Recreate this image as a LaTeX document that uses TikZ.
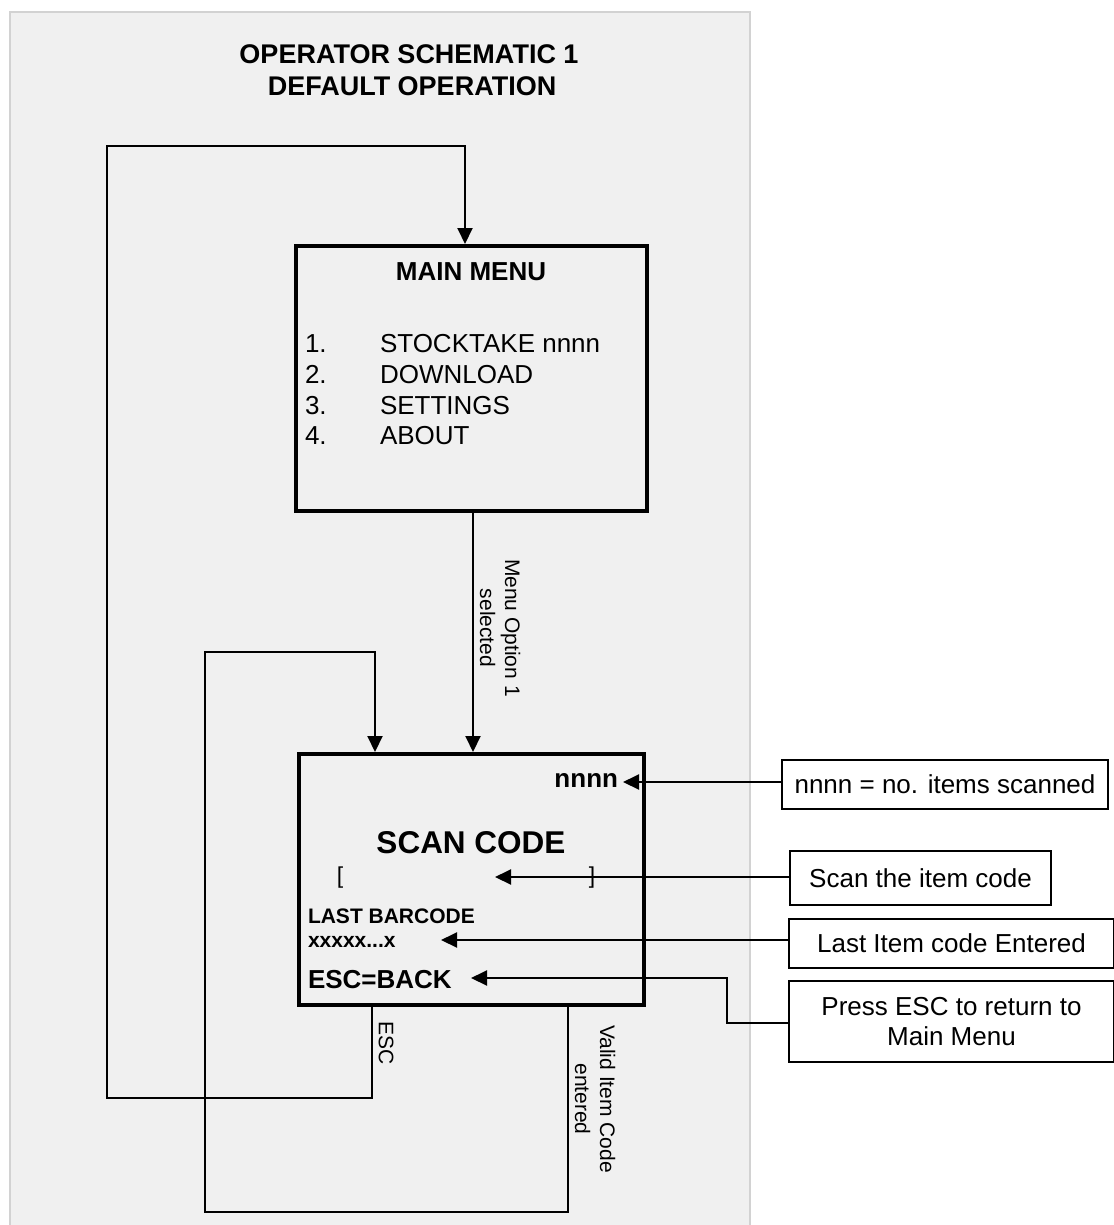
\documentclass[tikz,border=0pt]{standalone}
\usepackage{fontspec}
\setmainfont{Liberation Sans}
\usetikzlibrary{arrows.meta}
\definecolor{panelfill}{HTML}{F0F0F0}
\definecolor{panelline}{HTML}{D2D2D2}
\begin{document}
\begin{tikzpicture}[x=1pt,y=-1pt,
  txt/.style={inner sep=0pt,outer sep=0pt},
  bfA/.style={txt,font=\fontsize{26}{30}\selectfont\bfseries},
  bfT/.style={txt,font=\fontsize{27}{31}\selectfont\bfseries},
  rgA/.style={txt,font=\fontsize{26}{30}\selectfont},
  bfB/.style={txt,font=\fontsize{21}{24}\selectfont\bfseries},
  arr/.style={line width=2pt,-{Triangle[length=16pt,width=15pt]}},
  screen/.style={draw,line width=4pt,inner sep=0pt},
  note/.style={draw,line width=2.5pt,inner sep=0pt,align=center,font=\fontsize{26}{30}\selectfont},
  lbl/.style={inner sep=0pt,font=\fontsize{21}{25}\selectfont,align=center,rotate=-90},
]
\useasboundingbox (0,0) rectangle (1113,1225);
\fill[white] (0,0) rectangle (1113,1225);
\draw[fill=panelfill,draw=panelline,line width=2pt] (10,12) rectangle (750,1240);

% title
\node[bfT,anchor=base] (t1) at (409,64) {OPERATOR SCHEMATIC 1};
\node[bfT,anchor=base] (t2) at (412,96) {DEFAULT OPERATION};

% main menu screen
\node[screen,minimum width=351pt,minimum height=265pt] (main) at (471.5,378.5) {};
\node[bfA,anchor=base] (mmt) at (471,280) {MAIN MENU};
\node[rgA,anchor=base west] (n1) at (305,352) {1.};
\node[rgA,anchor=base west] (i1) at (380,352) {STOCKTAKE nnnn};
\node[rgA,anchor=base west] (n2) at (305,383) {2.};
\node[rgA,anchor=base west] (i2) at (380,383) {DOWNLOAD};
\node[rgA,anchor=base west] (n3) at (305,414) {3.};
\node[rgA,anchor=base west] (i3) at (380,414) {SETTINGS};
\node[rgA,anchor=base west] (n4) at (305,444) {4.};
\node[rgA,anchor=base west] (i4) at (380,444) {ABOUT};

% scan code screen
\node[screen,minimum width=345pt,minimum height=251pt] (scan) at (471.5,879.5) {};
\node[bfA,anchor=base east] (cnt) at (618,787) {nnnn};
\node[txt,font=\fontsize{31.5}{36}\selectfont\bfseries,anchor=base] (sct) at (471,853) {SCAN CODE};
\node[txt,font=\fontsize{23}{26}\selectfont,anchor=base] (lbr) at (340,883) {[};
\node[txt,font=\fontsize{23}{26}\selectfont,anchor=base] (rbr) at (592,883) {]};
\node[bfB,anchor=base west] (lbt) at (308,923) {LAST BARCODE};
\node[bfB,anchor=base west] (xxx) at (308,947) {xxxxx...x};
\node[bfA,anchor=base west] (esct) at (308,988) {ESC=BACK};

% notes on the right
\node[note,minimum width=326pt,minimum height=49pt] (nb) at (945,784.5) {nnnn = no. items scanned};
\node[note,minimum width=261pt,minimum height=54pt] (sb) at (920.5,878) {Scan the item code};
\node[note,minimum width=325pt,minimum height=49pt] (lb) at (951.5,943.5) {Last Item code Entered};
\node[note,minimum width=325pt,minimum height=81pt] (pb) at (951.5,1021.5) {Press ESC to return to\\Main Menu};

\coordinate (tipN) at (623,782);
\coordinate (tipS) at (495,877);
\coordinate (tipL) at (441,940);
\coordinate (tipE) at (471,978);
\coordinate (bendE) at (727,1023);
\draw[arr] (nb.west |- tipN) -- (tipN);
\draw[arr] (sb.west |- tipS) -- (tipS);
\draw[arr] (lb.west |- tipL) -- (tipL);
\draw[arr] (pb.west |- bendE) -- (bendE) |- (tipE);

% main -> scan
\coordinate (mx) at (473,0);
\draw[arr] (main.south -| mx) -- (scan.north -| mx);
\node[lbl] (ml) at (500,628) {Menu Option 1\\selected};

% ESC loop back to main menu
\coordinate (escx) at (372,1098);
\coordinate (lx) at (107,146);
\coordinate (topx) at (465,146);
\draw[arr] (scan.south -| escx) -- (escx) -| (lx) -| (main.north -| topx);
\node[lbl] (escl) at (386,1043) {ESC};

% valid item loop back to scan
\coordinate (vx) at (568,1212);
\coordinate (l2) at (205,652);
\coordinate (l2x) at (375,652);
\draw[arr] (scan.south -| vx) -- (vx) -| (l2) -| (scan.north -| l2x);
\node[lbl] (vl) at (595,1099) {Valid Item Code\\entered};
\end{tikzpicture}
\end{document}
